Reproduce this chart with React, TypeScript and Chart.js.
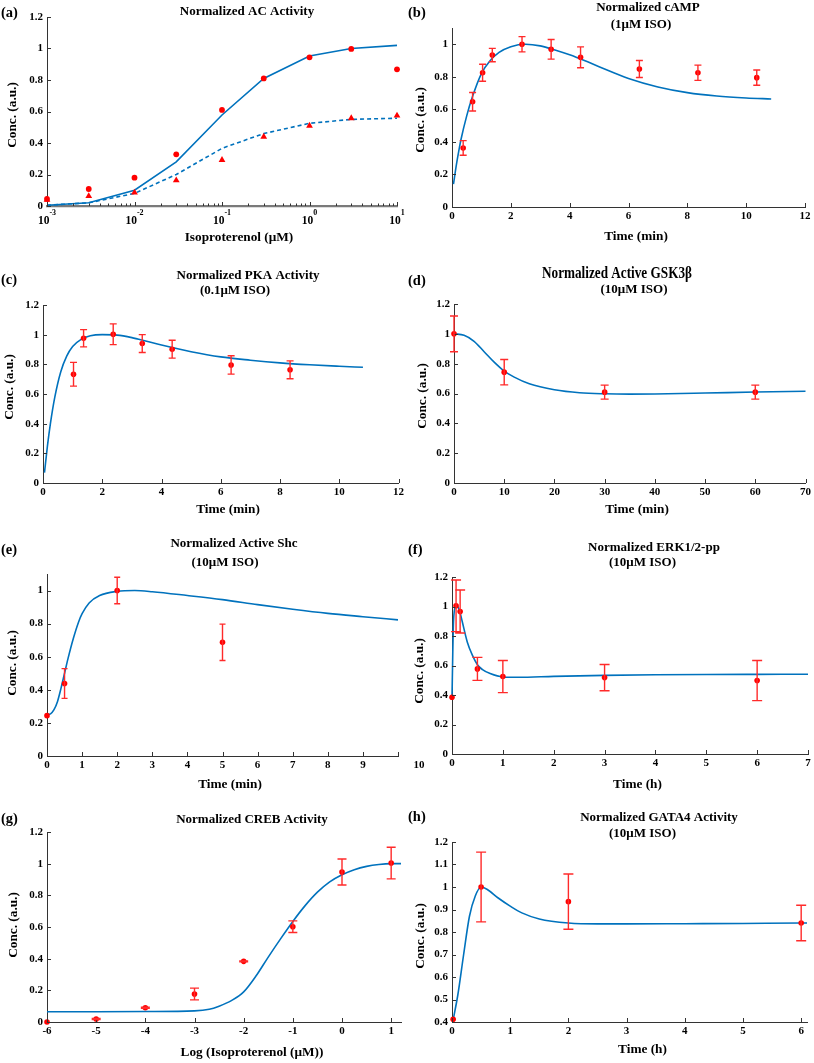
import React, { useEffect, useRef } from 'react';
import { Chart, registerables } from 'chart.js';
Chart.register(...registerables);

const FONT = "'Liberation Serif', 'Times New Roman', Times, serif";
const BLUE = '#0072BD';
const RED = '#FF0000';
const ERR = '#FF2A2A';
const AXIS = '#333333';

// ---------- (a) Normalized AC Activity ----------
const acDose = [0.001, 0.003, 0.01, 0.03, 0.1, 0.3, 1, 3, 10];
const acCircle = [0.045, 0.108, 0.18, 0.328, 0.61, 0.81, 0.944, 0.997, 0.868];
const acTriangle = [0.04, 0.063, 0.085, 0.163, 0.292, 0.44, 0.51, 0.557, 0.574];
const acModelSolid = [0.005, 0.021, 0.1, 0.28, 0.578, 0.81, 0.952, 1.0, 1.02];
const acModelDashed = [0.005, 0.02, 0.08, 0.2, 0.366, 0.46, 0.525, 0.55, 0.557];
const acXTicks = [0.001, 0.01, 0.1, 1, 10];

// ---------- (b) Normalized cAMP ----------
const campTime = [0.38, 0.7, 1.04, 1.37, 2.38, 3.37, 4.37, 6.37, 8.36, 10.36];
const campValue = [0.363, 0.647, 0.825, 0.934, 1.0, 0.969, 0.92, 0.848, 0.825, 0.795];
const campErr = [0.045, 0.057, 0.052, 0.041, 0.047, 0.06, 0.064, 0.052, 0.047, 0.047];
const campModelTime = [0.05, 0.15, 0.25, 0.3, 0.5, 0.7, 1.0, 1.3, 1.6, 2.0, 2.5, 3.0, 3.5, 4.0, 4.5, 5.0, 6.0, 7.0, 8.0, 9.0, 10.0, 10.85];
const campModelValue = [0.14, 0.26, 0.363, 0.41, 0.56, 0.68, 0.82, 0.9, 0.95, 0.985, 1.0, 0.99, 0.965, 0.935, 0.9, 0.862, 0.79, 0.738, 0.703, 0.682, 0.67, 0.664];

// ---------- (c) Normalized PKA Activity ----------
const pkaTime = [1.03, 1.37, 2.37, 3.35, 4.36, 6.35, 8.34];
const pkaValue = [0.733, 0.976, 1.003, 0.94, 0.902, 0.796, 0.763];
const pkaErr = [0.08, 0.058, 0.07, 0.06, 0.06, 0.062, 0.06];
const pkaModelTime = [0.05, 0.15, 0.25, 0.4, 0.6, 0.8, 1.0, 1.3, 1.6, 2.0, 2.5, 3.0, 3.5, 4.0, 5.0, 6.0, 7.0, 8.0, 9.0, 10.0, 10.8];
const pkaModelValue = [0.07, 0.25, 0.4, 0.58, 0.75, 0.855, 0.92, 0.97, 0.993, 1.0, 0.997, 0.98, 0.955, 0.93, 0.885, 0.85, 0.828, 0.81, 0.797, 0.787, 0.78];

// ---------- (d) Normalized Active GSK3β ----------
const gskTime = [0, 10, 30, 60];
const gskValue = [1.0, 0.743, 0.609, 0.609];
const gskErr = [0.12, 0.085, 0.047, 0.047];
const gskModelTime = [0, 2, 4, 6, 8, 10, 12, 15, 20, 25, 30, 35, 40, 50, 60, 70];
const gskModelValue = [1.0, 0.99, 0.95, 0.88, 0.81, 0.75, 0.71, 0.665, 0.625, 0.605, 0.598, 0.596, 0.597, 0.603, 0.61, 0.615];

// ---------- (e) Normalized Active Shc ----------
const shcTime = [0, 0.5, 2, 5];
const shcValue = [0.244, 0.438, 1.0, 0.687];
const shcErr = [0, 0.09, 0.08, 0.11];
const shcModelTime = [0, 0.1, 0.2, 0.3, 0.4, 0.5, 0.6, 0.75, 0.9, 1.0, 1.2, 1.5, 2.0, 2.5, 3, 4, 5, 6, 7, 8, 9, 10];
const shcModelValue = [0.25, 0.255, 0.28, 0.33, 0.41, 0.5, 0.59, 0.71, 0.81, 0.86, 0.925, 0.97, 0.995, 1.0, 0.993, 0.97, 0.945, 0.915, 0.887, 0.862, 0.842, 0.823];

// ---------- (f) Normalized ERK1/2-pp ----------
const erkTime = [0, 0.08, 0.16, 0.5, 1, 3, 6];
const erkValue = [0.385, 1.005, 0.966, 0.577, 0.525, 0.518, 0.498];
const erkErr = [0, 0.175, 0.146, 0.078, 0.109, 0.089, 0.136];
const erkModelTime = [0, 0.03, 0.07, 0.1, 0.15, 0.2, 0.3, 0.4, 0.5, 0.6, 0.75, 1.0, 1.3, 2, 3, 4, 5, 6, 7];
const erkModelValue = [0.385, 0.9, 1.0, 1.005, 0.97, 0.9, 0.76, 0.67, 0.605, 0.572, 0.545, 0.522, 0.52, 0.526, 0.533, 0.537, 0.539, 0.54, 0.541];

// ---------- (g) Normalized CREB Activity ----------
const crebLogDose = [-6, -5, -4, -3, -2, -1, 0, 1];
const crebValue = [0.0, 0.019, 0.09, 0.177, 0.383, 0.602, 0.947, 1.004];
const crebErr = [0, 0.003, 0.003, 0.037, 0.003, 0.037, 0.082, 0.1];
const crebModelLogDose = [-6, -5, -4, -3, -2.7, -2.5, -2.25, -2, -1.75, -1.5, -1.25, -1, -0.75, -0.5, -0.25, 0, 0.25, 0.5, 0.75, 1, 1.2];
const crebModelValue = [0.065, 0.065, 0.066, 0.07, 0.08, 0.1, 0.135, 0.19, 0.29, 0.41, 0.525, 0.635, 0.735, 0.82, 0.885, 0.93, 0.962, 0.983, 0.995, 1.0, 1.0];

// ---------- (h) Normalized GATA4 Activity ----------
const gataTime = [0.02, 0.5, 2, 6];
const gataValue = [0.412, 1.0, 0.935, 0.84];
const gataErr = [0, 0.155, 0.123, 0.079];
const gataModelTime = [0.02, 0.1, 0.2, 0.3, 0.4, 0.5, 0.6, 0.8, 1.0, 1.2, 1.5, 2.0, 2.5, 3, 4, 5, 6, 6.1];
const gataModelValue = [0.41, 0.52, 0.7, 0.87, 0.96, 1.0, 0.99, 0.95, 0.915, 0.885, 0.858, 0.84, 0.836, 0.836, 0.837, 0.838, 0.84, 0.84];

// ---------- tick lists ----------
const yTicks12 = [0, 0.2, 0.4, 0.6, 0.8, 1, 1.2];
const yTicks10 = [0, 0.2, 0.4, 0.6, 0.8, 1];
const yTicksGata = [0.4, 0.5, 0.6, 0.7, 0.8, 0.9, 1, 1.1, 1.2];
const xTicksMin12 = [0, 2, 4, 6, 8, 10, 12];
const xTicksGsk = [0, 10, 20, 30, 40, 50, 60, 70];
const xTicksShc = [0, 1, 2, 3, 4, 5, 6, 7, 8, 9, 10];
const xTicksErk = [0, 1, 2, 3, 4, 5, 6, 7];
const xTicksCreb = [-6, -5, -4, -3, -2, -1, 0, 1];
const xTicksGata = [0, 1, 2, 3, 4, 5, 6];

const fmt = (v: number) => String(Math.round(v * 100) / 100);
const TICKFONT = { size: 11, weight: 'bold' as const, family: FONT };

const pts = (xs: number[], ys: number[]) => xs.map((x, i) => ({ x, y: ys[i] }));

function markers(xs: number[], ys: number[], style: any = 'circle', r = 2.8) {
  return {
    type: 'line', data: pts(xs, ys), showLine: false, pointStyle: style,
    pointRadius: r, pointBackgroundColor: RED, pointBorderColor: RED, pointBorderWidth: 0,
    clip: 12,
  };
}
function curve(xs: number[], ys: number[], smooth = true, dashed = false) {
  return {
    type: 'line', data: pts(xs, ys), borderColor: BLUE, borderWidth: 1.6, pointRadius: 0,
    fill: false, tension: 0, cubicInterpolationMode: smooth ? 'monotone' : 'default',
    borderDash: dashed ? [4, 3] : [], clip: 4,
  };
}

function axis(horizontal: boolean, min: number, max: number, ticks: any[], extra: any = {}) {
  return {
    type: extra.type || 'linear',
    position: horizontal ? 'bottom' : 'left',
    min, max,
    afterBuildTicks: (s: any) => { s.ticks = ticks.map((t: any) => (typeof t === 'number' ? { value: t } : { ...t })); },
    grid: { display: false, drawTicks: false },
    border: { display: true, color: extra.borderColor || AXIS, width: extra.borderWidth || 1 },
    ticks: {
      display: extra.showLabels !== false,
      autoSkip: false, maxRotation: 0, minRotation: 0,
      padding: horizontal ? 3 : 4,
      color: '#000', font: TICKFONT,
      callback: extra.cb || ((v: number) => fmt(v)),
    },
  };
}

function tickPlugin() {
  return {
    id: 'inTicks',
    afterDatasetsDraw(chart: any) {
      const { ctx, chartArea } = chart;
      const xs = chart.scales.x, ys = chart.scales.y;
      ctx.save();
      ctx.strokeStyle = AXIS;
      ctx.lineWidth = 1;
      ctx.beginPath();
      for (const t of xs.ticks) {
        const px = Math.round(xs.getPixelForValue(t.value)) + 0.5;
        const len = t.major === false ? 2.5 : 4;
        ctx.moveTo(px, chartArea.bottom);
        ctx.lineTo(px, chartArea.bottom - len);
      }
      for (const t of ys.ticks) {
        const py = Math.round(ys.getPixelForValue(t.value)) + 0.5;
        ctx.moveTo(chartArea.left, py);
        ctx.lineTo(chartArea.left + 4, py);
      }
      ctx.stroke();
      ctx.restore();
    },
  };
}

function errPlugin(dsIndex: number, errs: number[], cap: number) {
  return {
    id: 'errBars',
    afterDatasetsDraw(chart: any) {
      const { ctx } = chart;
      const xs = chart.scales.x, ys = chart.scales.y;
      const data = chart.data.datasets[dsIndex].data;
      ctx.save();
      ctx.strokeStyle = ERR;
      ctx.lineWidth = 1.4;
      ctx.beginPath();
      data.forEach((p: any, i: number) => {
        const e = errs[i];
        if (!e) return;
        const px = xs.getPixelForValue(p.x);
        const y1 = ys.getPixelForValue(p.y + e);
        const y2 = ys.getPixelForValue(p.y - e);
        ctx.moveTo(px, y1); ctx.lineTo(px, y2);
        ctx.moveTo(px - cap, y1); ctx.lineTo(px + cap, y1);
        ctx.moveTo(px - cap, y2); ctx.lineTo(px + cap, y2);
      });
      ctx.stroke();
      ctx.restore();
    },
  };
}

type TextItem = { t: string; x: number; y: number; size: number; rot?: boolean; align?: string; sx?: number };

function textPlugin(items: TextItem[]) {
  return {
    id: 'panelText',
    afterDraw(chart: any) {
      const ctx = chart.ctx;
      for (const it of items) {
        ctx.save();
        ctx.font = `bold ${it.size}px ${FONT}`;
        ctx.fillStyle = '#000';
        ctx.textAlign = it.align || 'center';
        ctx.textBaseline = 'middle';
        ctx.translate(it.x, it.y);
        if (it.rot) ctx.rotate(-Math.PI / 2);
        if (it.sx) ctx.scale(it.sx, 1);
        ctx.fillText(it.t, 0, 0);
        ctx.restore();
      }
    },
  };
}

function logLabelPlugin(values: number[]) {
  return {
    id: 'logLabels',
    afterDraw(chart: any) {
      const ctx = chart.ctx;
      const xs = chart.scales.x;
      const base = chart.chartArea.bottom;
      ctx.save();
      ctx.fillStyle = '#000';
      ctx.textBaseline = 'alphabetic';
      ctx.textAlign = 'left';
      for (const v of values) {
        const px = xs.getPixelForValue(v);
        const exp = String(Math.round(Math.log10(v)));
        ctx.font = `bold 11.5px ${FONT}`;
        const w1 = ctx.measureText('10').width;
        ctx.font = `bold 8px ${FONT}`;
        const w2 = ctx.measureText(exp).width;
        const x0 = px - (w1 + w2) / 2;
        ctx.font = `bold 11.5px ${FONT}`;
        ctx.fillText('10', x0, base + 17.5);
        ctx.font = `bold 8px ${FONT}`;
        ctx.fillText(exp, x0 + w1, base + 9);
      }
      ctx.restore();
    },
  };
}

// area = margins of the plot area inside the canvas: the y scale takes the left
// margin, the x scale takes the bottom margin, and the rest is layout padding.
function baseOptions(area: any, x: any, y: any) {
  x.afterFit = (s: any) => { s.height = area.bottom; };
  y.afterFit = (s: any) => { s.width = area.left; };
  return {
    responsive: false,
    animation: false,
    events: [],
    layout: { padding: { left: 0, bottom: 0, top: area.top, right: area.right } },
    plugins: { legend: { display: false }, tooltip: { enabled: false }, title: { display: false } },
    scales: { x, y },
  };
}

const YT = 'Conc. (a.u.)';

const panels: any[] = [
  {
    key: 'a', left: 0, top: 0, width: 407, height: 265,
    make: () => ({
      type: 'line',
      data: {
        datasets: [
          markers(acDose, acCircle, 'circle', 2.9),
          markers(acDose, acTriangle, 'triangle', 3.9),
          curve(acDose, acModelSolid, false, false),
          curve(acDose, acModelDashed, false, true),
        ],
      },
      options: baseOptions(
        { left: 47, top: 17, right: 10, bottom: 59 },
        axis(true, 0.001, 10,
          (() => {
            const out: any[] = [];
            for (let d = -3; d <= 1; d++) {
              out.push({ value: Math.pow(10, d), major: true });
              if (d < 1) for (let m = 2; m <= 9; m++) out.push({ value: m * Math.pow(10, d), major: false });
            }
            return out;
          })(),
          { type: 'logarithmic', showLabels: false, borderColor: '#7a7a7a', borderWidth: 2.2 }),
        axis(false, 0, 1.2, yTicks12)),
      plugins: [tickPlugin(), logLabelPlugin(acXTicks), textPlugin([
        { t: '(a)', x: 1, y: 13, size: 14.5, align: 'left' },
        { t: 'Normalized AC Activity', x: 247, y: 12, size: 13 },
        { t: 'Isoproterenol (μM)', x: 239, y: 238, size: 13.3 },
        { t: YT, x: 13, y: 115, size: 13.3, rot: true },
      ])],
    }),
  },
  {
    key: 'b', left: 407, top: 0, width: 407, height: 265,
    make: () => ({
      type: 'line',
      data: { datasets: [markers(campTime, campValue), curve(campModelTime, campModelValue)] },
      options: baseOptions(
        { left: 45, top: 28, right: 9, bottom: 58 },
        axis(true, 0, 12, xTicksMin12),
        axis(false, 0, 1.1, yTicks10)),
      plugins: [tickPlugin(), errPlugin(0, campErr, 3.5), textPlugin([
        { t: '(b)', x: 1, y: 13, size: 14.5, align: 'left' },
        { t: 'Normalized cAMP', x: 241, y: 8, size: 13 },
        { t: '(1μM ISO)', x: 234, y: 25, size: 13 },
        { t: 'Time (min)', x: 229, y: 237, size: 13.3 },
        { t: YT, x: 14, y: 120, size: 13.3, rot: true },
      ])],
    }),
  },
  {
    key: 'c', left: 0, top: 265, width: 407, height: 265,
    make: () => ({
      type: 'line',
      data: { datasets: [markers(pkaTime, pkaValue), curve(pkaModelTime, pkaModelValue)] },
      options: baseOptions(
        { left: 43, top: 40, right: 7, bottom: 47 },
        axis(true, 0, 12, xTicksMin12),
        axis(false, 0, 1.2, yTicks12)),
      plugins: [tickPlugin(), errPlugin(0, pkaErr, 3.5), textPlugin([
        { t: '(c)', x: 1, y: 15, size: 14.5, align: 'left' },
        { t: 'Normalized PKA Activity', x: 248, y: 11, size: 13 },
        { t: '(0.1μM ISO)', x: 235, y: 26, size: 13 },
        { t: 'Time (min)', x: 228, y: 245, size: 13.3 },
        { t: YT, x: 10, y: 122, size: 13.3, rot: true },
      ])],
    }),
  },
  {
    key: 'd', left: 407, top: 265, width: 407, height: 265,
    make: () => ({
      type: 'line',
      data: { datasets: [markers(gskTime, gskValue), curve(gskModelTime, gskModelValue)] },
      options: baseOptions(
        { left: 47, top: 39, right: 7, bottom: 47 },
        axis(true, 0, 70, xTicksGsk),
        axis(false, 0, 1.2, yTicks12)),
      plugins: [tickPlugin(), errPlugin(0, gskErr, 4), textPlugin([
        { t: '(d)', x: 1, y: 16, size: 14.5, align: 'left' },
        { t: 'Normalized Active GSK3β', x: 210, y: 8.5, size: 16.5, sx: 0.8 },
        { t: '(10μM ISO)', x: 227, y: 25, size: 13 },
        { t: 'Time (min)', x: 230, y: 245, size: 13.3 },
        { t: YT, x: 16, y: 131, size: 13.3, rot: true },
      ])],
    }),
  },
  {
    key: 'e', left: 0, top: 530, width: 430, height: 265,
    make: () => ({
      type: 'line',
      data: { datasets: [markers(shcTime, shcValue), curve(shcModelTime, shcModelValue)] },
      options: baseOptions(
        { left: 47, top: 44, right: 32, bottom: 39 },
        axis(true, 0, 10, xTicksShc, { cb: (v: number) => (v === 10 ? '' : fmt(v)) }),
        axis(false, 0, 1.1, yTicks10)),
      plugins: [tickPlugin(), errPlugin(0, shcErr, 3), textPlugin([
        { t: '(e)', x: 1, y: 20, size: 14.5, align: 'left' },
        { t: 'Normalized Active Shc', x: 234, y: 14, size: 13 },
        { t: '(10μM ISO)', x: 225, y: 33, size: 13 },
        { t: 'Time (min)', x: 230, y: 255, size: 13.3 },
        { t: YT, x: 13, y: 133, size: 13.3, rot: true },
        { t: '10', x: 419, y: 235, size: 11 },
      ])],
    }),
  },
  {
    key: 'f', left: 407, top: 530, width: 407, height: 265,
    make: () => ({
      type: 'line',
      data: { datasets: [markers(erkTime, erkValue), curve(erkModelTime, erkModelValue)] },
      options: baseOptions(
        { left: 45, top: 47, right: 6, bottom: 41 },
        axis(true, 0, 7, xTicksErk),
        axis(false, 0, 1.2, yTicks12)),
      plugins: [tickPlugin(), errPlugin(0, erkErr, 5), textPlugin([
        { t: '(f)', x: 1, y: 20, size: 14.5, align: 'left' },
        { t: 'Normalized ERK1/2-pp', x: 247, y: 18, size: 13 },
        { t: '(10μM ISO)', x: 235.5, y: 33, size: 13 },
        { t: 'Time (h)', x: 230.5, y: 255, size: 13.3 },
        { t: YT, x: 13, y: 141, size: 13.3, rot: true },
      ])],
    }),
  },
  {
    key: 'g', left: 0, top: 795, width: 407, height: 268,
    make: () => ({
      type: 'line',
      data: { datasets: [markers(crebLogDose, crebValue), curve(crebModelLogDose, crebModelValue)] },
      options: baseOptions(
        { left: 47, top: 37, right: 6, bottom: 41 },
        axis(true, -6, 1.2, xTicksCreb),
        axis(false, 0, 1.2, yTicks12)),
      plugins: [tickPlugin(), errPlugin(0, crebErr, 4.5), textPlugin([
        { t: '(g)', x: 1, y: 24, size: 14.5, align: 'left' },
        { t: 'Normalized CREB Activity', x: 252, y: 25, size: 13 },
        { t: 'Log (Isoproterenol (μM))', x: 252, y: 258, size: 13.3 },
        { t: YT, x: 14, y: 130, size: 13.3, rot: true },
      ])],
    }),
  },
  {
    key: 'h', left: 407, top: 795, width: 407, height: 268,
    make: () => ({
      type: 'line',
      data: { datasets: [markers(gataTime, gataValue), curve(gataModelTime, gataModelValue)] },
      options: baseOptions(
        { left: 45, top: 47, right: 7, bottom: 41 },
        axis(true, 0, 6.1, xTicksGata),
        axis(false, 0.4, 1.2, yTicksGata)),
      plugins: [tickPlugin(), errPlugin(0, gataErr, 5), textPlugin([
        { t: '(h)', x: 1, y: 22, size: 14.5, align: 'left' },
        { t: 'Normalized GATA4 Activity', x: 252, y: 23, size: 13 },
        { t: '(10μM ISO)', x: 235.5, y: 39, size: 13 },
        { t: 'Time (h)', x: 235.5, y: 255, size: 13.3 },
        { t: YT, x: 14, y: 141, size: 13.3, rot: true },
      ])],
    }),
  },
];

function Panel({ left, top, width, height, make }: any) {
  const ref = useRef<HTMLCanvasElement | null>(null);
  useEffect(() => {
    if (!ref.current) return;
    const chart = new Chart(ref.current, make());
    return () => chart.destroy();
  }, []);
  return (
    <canvas
      ref={ref}
      width={width}
      height={height}
      style={{ position: 'absolute', left, top, width, height }}
    />
  );
}

export default function App() {
  return (
    <div style={{ position: 'absolute', left: 0, top: 0, width: 814, height: 1063, background: '#fff', overflow: 'hidden' }}>
      {panels.map((p) => (
        <Panel key={p.key} {...p} />
      ))}
    </div>
  );
}
